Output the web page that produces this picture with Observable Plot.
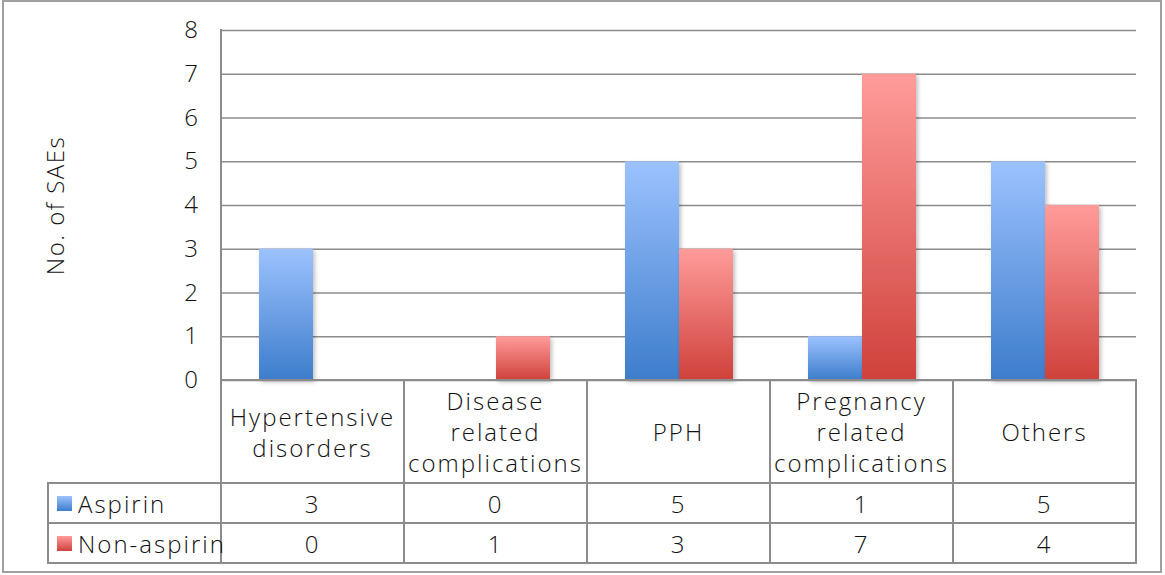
<!DOCTYPE html>
<html><head><meta charset="utf-8">
<script src="https://cdn.jsdelivr.net/npm/d3@7"></script>
<script src="https://cdn.jsdelivr.net/npm/@observablehq/plot@0.6"></script>
<style>
body{margin:0;background:#fff;}
#wrap{position:relative;width:1165px;height:575px;font-family:"Open Sans",sans-serif;font-weight:300;color:#111;overflow:hidden;}
#frame{position:absolute;left:2px;top:0px;width:1160px;height:573px;border:2px solid #a0a0a0;box-sizing:border-box;}
#chart{position:absolute;left:0;top:0;}
.ln{position:absolute;background:#8c8c8c;}
.cell{position:absolute;display:flex;align-items:center;justify-content:center;text-align:center;font-size:24px;line-height:31px;letter-spacing:2px;white-space:nowrap;}
.leg{position:absolute;display:flex;align-items:center;font-size:24px;letter-spacing:2px;white-space:nowrap;}
.key{width:15px;height:15px;margin-right:6px;}
</style>
</head><body>
<div id="wrap"><div id="frame"></div><div id="chart"></div></div>
<script>
const categories = ["Hypertensive disorders","Disease related complications","PPH","Pregnancy related complications","Others"];
const categoryLines = [["Hypertensive","disorders"],["Disease","related","complications"],["PPH"],["Pregnancy","related","complications"],["Others"]];
const series = ["Aspirin","Non-aspirin"];
const aspirin = [3,0,5,1,5];
const nonAspirin = [0,1,3,7,4];
const yTicks = [0,1,2,3,4,5,6,7,8];

const seriesValues = [aspirin, nonAspirin];
const gradIds = ["gA","gN"];
const data = categories.flatMap((c,i)=>series.map((s,j)=>({category:c, series:s, value:seriesValues[j][i]})));

const W=1165, H=575, mL=221, mR=29, mT=30, mB=195;
const chart = Plot.plot({
  width:W, height:H, marginLeft:mL, marginRight:mR, marginTop:mT, marginBottom:mB,
  style:{fontFamily:'"Open Sans",sans-serif', fontWeight:300, fontSize:"24px", color:"#111", background:"transparent", overflow:"visible", letterSpacing:"1.5px"},
  fx:{domain:categories, padding:0, axis:null},
  x:{domain:series, paddingInner:0, paddingOuter:0.694, axis:null},
  y:{domain:[0,8]},
  marks:[
    Plot.gridY(yTicks,{stroke:"#8c8c8c", strokeOpacity:1, strokeWidth:1.5}),
    ...series.map((s,j)=>Plot.barY(data.filter(d=>d.series===s),{fx:"category", x:"series", y:"value", fill:`url(#${gradIds[j]})`, filter:d=>d.value>0})),
    Plot.axisY(yTicks,{tickSize:0, tickPadding:22, fontSize:24, label:"No. of SAEs", labelAnchor:"center", labelOffset:175, labelArrow:"none"})
  ]
});
const svg = d3.select(chart);
const defs = svg.insert("defs",":first-child");
const gcols = [["#9cc2ff","#3d7dcb"],["#ff9c9a","#cf413b"]];
gradIds.forEach((id,j)=>{
  const g = defs.append("linearGradient").attr("id",id).attr("x1",0).attr("y1",0).attr("x2",0).attr("y2",1);
  g.append("stop").attr("offset","0%").attr("stop-color",gcols[j][0]);
  g.append("stop").attr("offset","100%").attr("stop-color",gcols[j][1]);
});
const f = defs.append("filter").attr("id","shadow").attr("x","-20%").attr("y","-20%").attr("width","140%").attr("height","140%");
f.append("feDropShadow").attr("dx",2).attr("dy",2).attr("stdDeviation",2).attr("flood-color","#000").attr("flood-opacity",0.25);
svg.selectAll("g[aria-label='bar'] rect").attr("filter","url(#shadow)");
document.getElementById("chart").appendChild(chart);

// data table
const wrap = document.getElementById("wrap");
const y0 = H - mB; // 380
const colW = (W - mL - mR)/categories.length;
const rowTops = [y0, 483, 523, 563];
const legL = 48;
function line(x,y,w,h){const d=document.createElement("div");d.className="ln";Object.assign(d.style,{left:x+"px",top:y+"px",width:w+"px",height:h+"px"});wrap.appendChild(d);}
line(mL-1, mT-1, 2, rowTops[3]-mT+2);
line(mL, y0-1, W-mR-mL, 2);
[1,2,3].forEach(r=>line(legL, rowTops[r]-1, W-mR-legL+1, 2));
line(legL-1, rowTops[1]-1, 2, rowTops[3]-rowTops[1]+2);
for(let k=1;k<=categories.length;k++) line(mL+k*colW-1, y0-1, 2, rowTops[3]-y0+2);
function cell(x,y,w,h,html){const d=document.createElement("div");d.className="cell";Object.assign(d.style,{left:x+"px",top:y+"px",width:w+"px",height:h+"px"});d.innerHTML=html;wrap.appendChild(d);}
categories.forEach((c,i)=>{
  cell(mL+i*colW, rowTops[0], colW, rowTops[1]-rowTops[0], categoryLines[i].join("<br>"));
  series.forEach((s,j)=>cell(mL+i*colW, rowTops[j+1], colW, rowTops[j+2]-rowTops[j+1], String(seriesValues[j][i])));
});
series.forEach((s,j)=>{
  const d=document.createElement("div");d.className="leg";
  Object.assign(d.style,{left:(legL+9)+"px",top:rowTops[j+1]+"px",height:(rowTops[j+2]-rowTops[j+1])+"px"});
  const k=document.createElement("div");k.className="key";k.style.background=`linear-gradient(${gcols[j][0]},${gcols[j][1]})`;
  d.appendChild(k);d.appendChild(document.createTextNode(s));wrap.appendChild(d);
});
</script>
</body></html>
